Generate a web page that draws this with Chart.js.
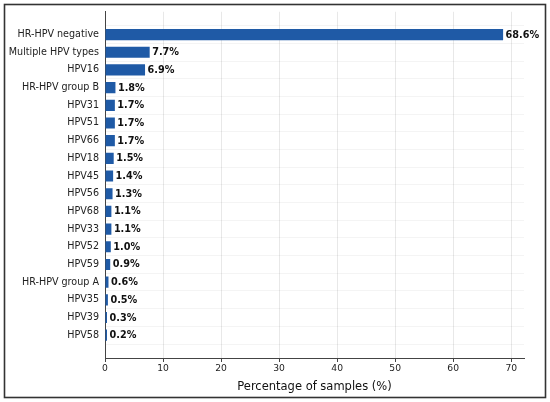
<!DOCTYPE html>
<html>
<head>
<meta charset="utf-8">
<script src="https://cdn.jsdelivr.net/npm/chart.js@4/dist/chart.umd.min.js"></script>
<style>
  html, body { margin: 0; padding: 0; background: #fff; }
  #wrap { width: 550px; height: 402px; position: relative; }
</style>
</head>
<body>
<div id="wrap"><canvas id="hpvChart" width="550" height="402"></canvas></div>
<script>
// 分类与数值
const categories = [
  'HR-HPV negative', 'Multiple HPV types', 'HPV16', 'HR-HPV group B',
  'HPV31', 'HPV51', 'HPV66', 'HPV18', 'HPV45', 'HPV56', 'HPV68',
  'HPV33', 'HPV52', 'HPV59', 'HR-HPV group A', 'HPV35', 'HPV39', 'HPV58'
];
const percentages = [68.6, 7.7, 6.9, 1.8, 1.7, 1.7, 1.7, 1.5, 1.4, 1.3, 1.1, 1.1, 1.0, 0.9, 0.6, 0.5, 0.3, 0.2];
const xTicks = [0, 10, 20, 30, 40, 50, 60, 70];

const FONT = 'DejaVu Sans';

// 柱子右侧的百分比标签 + 外框
const valueLabels = {
  id: 'valueLabels',
  afterDatasetsDraw(chart) {
    const ctx = chart.ctx;
    const meta = chart.getDatasetMeta(0);
    ctx.save();
    ctx.font = 'bold 9.7px "' + FONT + '"';
    ctx.fillStyle = '#111';
    ctx.textAlign = 'left';
    ctx.textBaseline = 'middle';
    meta.data.forEach((bar, i) => {
      ctx.fillText(percentages[i].toFixed(1) + '%', bar.x + 2.5, bar.y + 0.5);
    });
    ctx.restore();
  },
  afterDraw(chart) {
    const ctx = chart.ctx;
    ctx.save();
    ctx.strokeStyle = '#333';
    ctx.lineWidth = 1.6;
    ctx.strokeRect(4.5, 4.5, 541, 393);
    ctx.restore();
  }
};

new Chart(document.getElementById('hpvChart'), {
  type: 'bar',
  data: {
    datasets: [{
      data: percentages.map((v, i) => ({ x: v, y: i })),
      backgroundColor: '#1f5aa6',
      borderWidth: 0,
      minBarLength: 2,
      barPercentage: 0.63,
      categoryPercentage: 1
    }]
  },
  options: {
    indexAxis: 'y',
    responsive: false,
    animation: false,
    layout: { padding: { left: 0, right: 26, top: 11, bottom: 0 } },
    plugins: {
      legend: { display: false },
      tooltip: { enabled: false }
    },
    scales: {
      x: {
        type: 'linear',
        min: 0,
        max: 72.2,
        afterBuildTicks: s => { s.ticks = xTicks.map(v => ({ value: v })); },
        afterFit: s => { s.height = 44; },
        grid: {
          color: 'rgba(0,0,0,0.09)',
          tickColor: '#444',
          tickLength: 4,
          drawTicks: true
        },
        border: { color: '#444', width: 1 },
        ticks: {
          color: '#222',
          padding: 1,
          font: { family: FONT, size: 9.2 }
        },
        title: {
          display: true,
          text: 'Percentage of samples (%)',
          color: '#111',
          font: { family: FONT, size: 11.5 },
          padding: { top: 2, bottom: 8 }
        }
      },
      y: {
        type: 'linear',
        reverse: true,
        offset: false,
        min: -1.29,
        max: 18.29,
        afterBuildTicks: s => { s.ticks = categories.map((_, i) => ({ value: i })); },
        afterFit: s => { s.width = 105; },
        grid: {
          offset: true,
          color: 'rgba(0,0,0,0.045)',
          drawTicks: false
        },
        border: { color: '#444', width: 1 },
        ticks: {
          color: '#222',
          padding: 6,
          autoSkip: false,
          font: { family: FONT, size: 9.6 },
          callback: v => categories[v] ?? ''
        }
      }
    }
  },
  plugins: [valueLabels]
});
</script>
</body>
</html>
